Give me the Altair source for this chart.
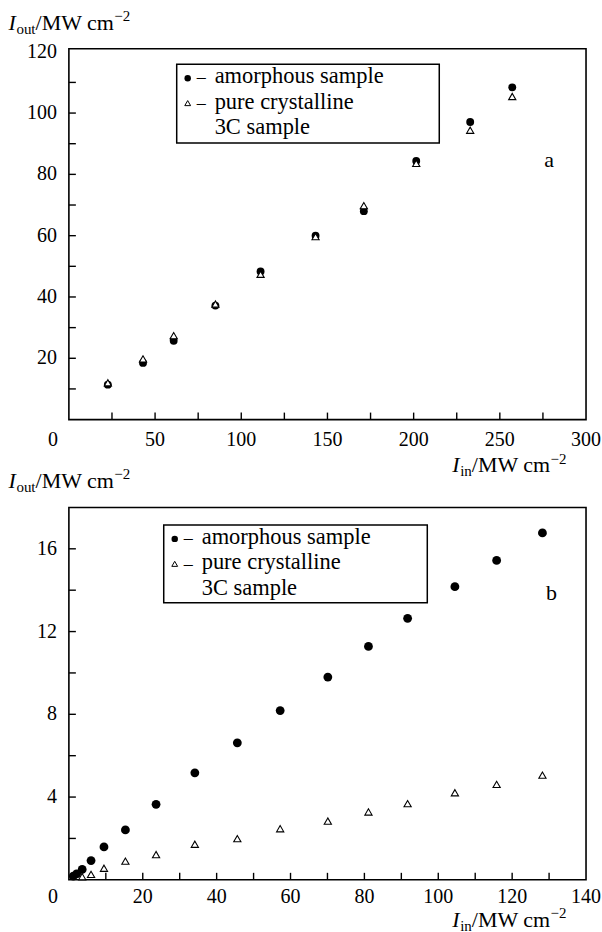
import altair as alt
import pandas as pd

FONT = "Liberation Serif"

# ---------------- Panel a ----------------
a_x = [22.6, 43.0, 60.8, 85.0, 111.2, 143.1, 171.1, 201.5, 232.8, 257.2]
a_amorphous = [11.4, 18.5, 25.7, 37.2, 48.3, 60.0, 68.0, 84.4, 97.1, 108.4]
a_crystalline = [12.0, 19.8, 27.4, 37.7, 47.4, 59.7, 69.8, 83.6, 94.4, 105.4]
a_xlabels = [50, 100, 150, 200, 250, 300]
a_ylabels = [20, 40, 60, 80, 100, 120]
a_xticks = [25, 50, 75, 100, 125, 150, 175, 200, 225, 250, 275]
a_yticks = [10, 20, 30, 40, 50, 60, 70, 80, 90, 100, 110]

# ---------------- Panel b ----------------
b_x = [1.2, 2.1, 3.6, 6.0, 9.5, 15.3, 23.6, 34.1, 45.6, 57.2, 70.1, 81.1, 91.7, 104.5, 115.8, 128.2]
b_amorphous = [0.18, 0.29, 0.50, 0.93, 1.59, 2.41, 3.65, 5.17, 6.62, 8.18, 9.80, 11.28, 12.64, 14.17, 15.44, 16.77]
b_cryst_x = [3.6, 6.0, 9.5, 15.3, 23.6, 34.1, 45.6, 57.2, 70.1, 81.1, 91.7, 104.5, 115.8, 128.2]
b_crystalline = [0.15, 0.26, 0.56, 0.90, 1.22, 1.72, 1.99, 2.47, 2.84, 3.28, 3.68, 4.21, 4.61, 5.06]
b_xlabels = [20, 40, 60, 80, 100, 120, 140]
b_ylabels = [4, 8, 12, 16]
b_xticks = [10, 20, 30, 40, 50, 60, 70, 80, 90, 100, 110, 120, 130]
b_yticks = [2, 4, 6, 8, 10, 12, 14, 16]

legend_texts = ["amorphous sample", "pure crystalline", "3C sample"]

W = 518
ONE = pd.DataFrame({"k": [0]})


def txt(text, x, y, size=22, italic=False, align="left", baseline="alphabetic"):
    return alt.Chart(ONE).mark_text(
        text=text, font=FONT, fontSize=size, fontStyle="italic" if italic else "normal",
        align=align, baseline=baseline, color="black"
    ).encode(x=alt.value(x), y=alt.value(y))


def rich(x0, base, sub):
    # I_sub/MW cm^-2
    big, small = 22, 15
    parts = [
        ("I", big, True, 0, 0.36),
        (sub, small, False, 4, 1.278 if sub == "out" else 0.778),
        ("/MW cm", big, False, 0, 3.583),
        ("\u22122", small, False, -9, 1.064),
    ]
    layers = []
    x = x0
    for t, s, it, dy, em in parts:
        layers.append(txt(t, x, base + dy, size=s, italic=it))
        x += em * s
    return layers


def panel(xs, ya, xc, yc, xdom, ydom, xlabels, ylabels, xticks, yticks, H,
          csize, tsize, box, letter, letter_pos, ytitle_base, xtitle_base, xlab_pad, anchor):
    xsc = alt.Scale(domain=xdom, nice=False, zero=False)
    ysc = alt.Scale(domain=ydom, nice=False, zero=False)

    circles = alt.Chart(pd.DataFrame({"x": xs, "y": ya})).mark_point(
        shape="circle", filled=True, color="black", size=csize, opacity=1
    ).encode(x=alt.X("x:Q", scale=xsc, axis=None), y=alt.Y("y:Q", scale=ysc, axis=None))

    tris = alt.Chart(pd.DataFrame({"x": xc, "y": yc})).mark_point(
        shape="triangle-up", filled=True, fill="white", stroke="black", strokeWidth=1.1,
        size=tsize, opacity=1
    ).encode(x=alt.X("x:Q", scale=xsc, axis=None), y=alt.Y("y:Q", scale=ysc, axis=None))

    xt = alt.Chart(pd.DataFrame({"t": xticks})).mark_rule(color="black", strokeWidth=1.4).encode(
        x=alt.X("t:Q", scale=xsc, axis=None), y=alt.value(H), y2=alt.value(H - 7))
    yt = alt.Chart(pd.DataFrame({"t": yticks})).mark_rule(color="black", strokeWidth=1.4).encode(
        y=alt.Y("t:Q", scale=ysc, axis=None), x=alt.value(0), x2=alt.value(7))

    xl = alt.Chart(pd.DataFrame({"v": xlabels})).mark_text(
        font=FONT, fontSize=20, align="center", baseline="top", color="black"
    ).encode(x=alt.X("v:Q", scale=xsc, axis=None), y=alt.value(H + xlab_pad), text=alt.Text("v:Q"))
    yl = alt.Chart(pd.DataFrame({"v": ylabels})).mark_text(
        font=FONT, fontSize=20, align="right", baseline="middle", color="black"
    ).encode(y=alt.Y("v:Q", scale=ysc, axis=None), x=alt.value(-12), text=alt.Text("v:Q"))

    bx, by, bw, bh = box
    rect = alt.Chart(ONE).mark_rect(fill="white", stroke="black", strokeWidth=1.5).encode(
        x=alt.value(bx), x2=alt.value(bx + bw), y=alt.value(by), y2=alt.value(by + bh))
    lc = alt.Chart(ONE).mark_point(shape="circle", filled=True, color="black", size=42, opacity=1).encode(
        x=alt.value(bx + 11), y=alt.value(by + 14))
    lt = alt.Chart(ONE).mark_point(shape="triangle-up", filled=True, fill="white", stroke="black",
                                   strokeWidth=1, size=34, opacity=1).encode(
        x=alt.value(bx + 11), y=alt.value(by + 39))

    layers = [circles, tris, xt, yt, xl, yl, rect, lc, lt]
    layers.append(txt("\u2013", bx + 20, by + 19, size=18))
    layers.append(txt("\u2013", bx + 20, by + 45, size=18))
    for i, t in enumerate(legend_texts):
        layers.append(txt(t, bx + 38, by + 19 + 25.5 * i, size=22.5))
    layers.append(txt(letter, letter_pos[0], letter_pos[1], align="center", baseline="middle"))
    layers.append(txt("0", -16, H + xlab_pad, size=20, align="center", baseline="top"))
    layers += rich(-60.5, ytitle_base, "out")
    layers += rich(384, xtitle_base, "in")
    if anchor:
        layers.append(alt.Chart(ONE).mark_rule(color="white", strokeWidth=0.01).encode(
            x=alt.value(-67.5), y=alt.value(-47), y2=alt.value(-46)))
    return alt.layer(*layers).properties(width=W, height=H)


top = panel(a_x, a_amorphous, a_x, a_crystalline, [0, 300], [0, 121], a_xlabels, a_ylabels,
            a_xticks, a_yticks, 371.5, 62, 52, (108, 15.5, 263, 79), "a", (481, 111),
            -19, 424.5, 10, True)
bottom = panel(b_x, b_amorphous, b_cryst_x, b_crystalline, [0, 140], [0, 18], b_xlabels, b_ylabels,
               b_xticks, b_yticks, 373, 78, 52, (95, 17.5, 264, 78), "b", (483.5, 86),
               -19, 420, 7, False)

chart = alt.vconcat(top, bottom, spacing=87.5, bounds="flush", padding=0, background="white") \
    .configure_view(stroke="black", strokeWidth=1.6)

chart.save("out.html", embed_options={"renderer": "svg", "actions": False})
